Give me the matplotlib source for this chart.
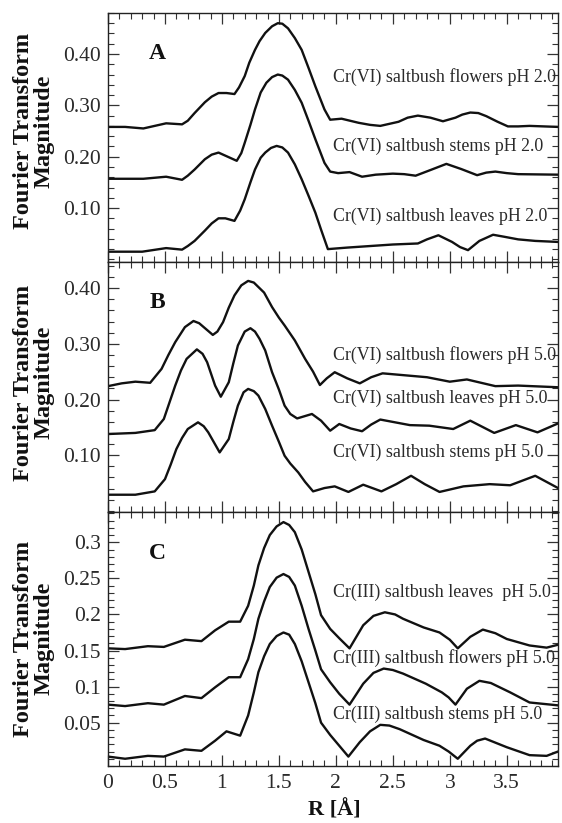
import matplotlib

matplotlib.use("Agg")
import matplotlib.pyplot as plt
from matplotlib.ticker import FuncFormatter, MultipleLocator

plt.rcParams["font.family"] = ["Liberation Serif", "DejaVu Serif"]

# Panel A: Cr(VI) at pH 2.0
A_FLOWERS_X = [0.00, 0.15, 0.31, 0.51, 0.65, 0.70, 0.76, 0.85, 0.91, 0.97, 1.04, 1.11, 1.15, 1.20,
               1.24, 1.29, 1.33, 1.38, 1.44, 1.49, 1.53, 1.58, 1.64, 1.70, 1.76, 1.82, 1.90, 1.95,
               2.05, 2.20, 2.30, 2.39, 2.55, 2.63, 2.72, 2.83, 2.94, 3.05, 3.11, 3.18, 3.25, 3.32,
               3.42, 3.51, 3.60, 3.70, 3.95]
A_FLOWERS_Y = [0.258, 0.258, 0.255, 0.265, 0.263, 0.270, 0.285, 0.306, 0.317, 0.324, 0.324, 0.322,
               0.335, 0.357, 0.383, 0.408, 0.425, 0.441, 0.454, 0.460, 0.459, 0.450, 0.431, 0.408,
               0.373, 0.337, 0.292, 0.272, 0.274, 0.266, 0.262, 0.260, 0.268, 0.276, 0.280, 0.276,
               0.269, 0.276, 0.282, 0.286, 0.285, 0.279, 0.268, 0.259, 0.259, 0.260, 0.258]
A_STEMS_X = [0.00, 0.31, 0.51, 0.65, 0.70, 0.76, 0.85, 0.91, 0.97, 1.04, 1.13, 1.17, 1.20, 1.25,
             1.29, 1.34, 1.39, 1.44, 1.49, 1.53, 1.58, 1.64, 1.70, 1.76, 1.82, 1.90, 1.95, 2.02,
             2.12, 2.23, 2.35, 2.50, 2.60, 2.70, 2.83, 2.97, 3.10, 3.24, 3.32, 3.40, 3.50, 3.60,
             3.95]
A_STEMS_Y = [0.157, 0.157, 0.161, 0.155, 0.163, 0.175, 0.195, 0.204, 0.208, 0.201, 0.192, 0.207,
             0.227, 0.262, 0.292, 0.325, 0.344, 0.355, 0.360, 0.358, 0.350, 0.330, 0.305, 0.270,
             0.234, 0.188, 0.171, 0.168, 0.170, 0.161, 0.165, 0.167, 0.166, 0.163, 0.174, 0.186,
             0.176, 0.164, 0.169, 0.171, 0.168, 0.166, 0.165]
A_LEAVES_X = [0.00, 0.30, 0.51, 0.65, 0.70, 0.76, 0.85, 0.91, 0.97, 1.03, 1.11, 1.16, 1.20, 1.25,
              1.29, 1.34, 1.38, 1.43, 1.48, 1.53, 1.58, 1.64, 1.70, 1.76, 1.82, 1.87, 1.93, 2.10,
              2.30, 2.50, 2.72, 2.80, 2.90, 3.02, 3.09, 3.16, 3.26, 3.38, 3.48, 3.60, 3.75, 3.95]
A_LEAVES_Y = [0.015, 0.015, 0.022, 0.019, 0.026, 0.036, 0.056, 0.070, 0.080, 0.080, 0.075, 0.095,
              0.117, 0.150, 0.175, 0.198, 0.208, 0.217, 0.221, 0.218, 0.208, 0.185, 0.156, 0.124,
              0.091, 0.058, 0.020, 0.023, 0.026, 0.029, 0.031, 0.039, 0.047, 0.034, 0.024, 0.018,
              0.036, 0.048, 0.044, 0.039, 0.036, 0.034]

# Panel B: Cr(VI) at pH 5.0
B_FLOWERS_X = [0.00, 0.12, 0.24, 0.37, 0.47, 0.53, 0.59, 0.675, 0.75, 0.80, 0.84, 0.92, 0.96, 1.01,
               1.06, 1.11, 1.17, 1.23, 1.28, 1.32, 1.37, 1.44, 1.50, 1.55, 1.64, 1.73, 1.80, 1.86,
               1.92, 1.99, 2.10, 2.21, 2.31, 2.41, 2.80, 3.00, 3.15, 3.40, 3.60, 3.95]
B_FLOWERS_Y = [0.224, 0.229, 0.232, 0.230, 0.255, 0.280, 0.303, 0.330, 0.341, 0.337, 0.330, 0.316,
               0.322, 0.339, 0.365, 0.387, 0.405, 0.413, 0.410, 0.402, 0.392, 0.366, 0.347, 0.333,
               0.306, 0.273, 0.250, 0.226, 0.238, 0.249, 0.238, 0.229, 0.240, 0.247, 0.240, 0.232,
               0.236, 0.224, 0.225, 0.222]
B_LEAVES_X = [0.00, 0.24, 0.41, 0.49, 0.54, 0.59, 0.64, 0.69, 0.78, 0.83, 0.87, 0.94, 0.99, 1.06,
              1.10, 1.14, 1.20, 1.25, 1.29, 1.33, 1.38, 1.44, 1.50, 1.55, 1.60, 1.66, 1.79, 1.87,
              1.95, 2.03, 2.13, 2.23, 2.31, 2.39, 2.65, 2.82, 3.03, 3.18, 3.39, 3.58, 3.77, 3.95]
B_LEAVES_Y = [0.138, 0.140, 0.145, 0.165, 0.195, 0.225, 0.252, 0.273, 0.290, 0.282, 0.267, 0.225,
              0.205, 0.231, 0.265, 0.297, 0.322, 0.328, 0.322, 0.309, 0.288, 0.249, 0.218, 0.189,
              0.174, 0.166, 0.174, 0.162, 0.144, 0.156, 0.148, 0.143, 0.155, 0.164, 0.154, 0.153,
              0.147, 0.162, 0.140, 0.154, 0.141, 0.157]
B_STEMS_X = [0.00, 0.24, 0.41, 0.50, 0.55, 0.60, 0.65, 0.70, 0.79, 0.84, 0.88, 0.98, 1.06, 1.10,
             1.14, 1.19, 1.23, 1.28, 1.32, 1.38, 1.44, 1.50, 1.55, 1.60, 1.67, 1.73, 1.80, 1.90,
             1.99, 2.11, 2.24, 2.40, 2.53, 2.66, 2.78, 2.91, 3.12, 3.35, 3.53, 3.75, 3.95]
B_STEMS_Y = [0.029, 0.029, 0.035, 0.057, 0.083, 0.111, 0.131, 0.147, 0.159, 0.152, 0.141, 0.105,
             0.129, 0.160, 0.189, 0.213, 0.219, 0.215, 0.207, 0.183, 0.153, 0.124, 0.099, 0.085,
             0.069, 0.052, 0.035, 0.041, 0.044, 0.034, 0.047, 0.035, 0.048, 0.063, 0.048, 0.034,
             0.044, 0.048, 0.046, 0.063, 0.041]

# Panel C: Cr(III) at pH 5.0
C_LEAVES_X = [0.00, 0.15, 0.35, 0.49, 0.675, 0.82, 0.94, 1.06, 1.16, 1.23, 1.28, 1.32, 1.37, 1.42,
              1.48, 1.54, 1.59, 1.64, 1.70, 1.76, 1.82, 1.87, 1.95, 2.03, 2.12, 2.24, 2.33, 2.43,
              2.52, 2.59, 2.77, 2.91, 3.00, 3.07, 3.18, 3.29, 3.40, 3.50, 3.70, 3.85, 3.95]
C_LEAVES_Y = [0.153, 0.152, 0.156, 0.155, 0.165, 0.163, 0.178, 0.190, 0.190, 0.212, 0.240, 0.268,
              0.292, 0.310, 0.322, 0.328, 0.324, 0.314, 0.290, 0.259, 0.228, 0.199, 0.180, 0.167,
              0.153, 0.185, 0.198, 0.203, 0.200, 0.194, 0.182, 0.175, 0.165, 0.153, 0.169, 0.179,
              0.174, 0.166, 0.157, 0.154, 0.158]
C_FLOWERS_X = [0.00, 0.15, 0.35, 0.49, 0.675, 0.82, 0.94, 1.06, 1.16, 1.23, 1.28, 1.32, 1.37, 1.42,
               1.48, 1.54, 1.59, 1.64, 1.70, 1.76, 1.82, 1.87, 1.95, 2.03, 2.12, 2.24, 2.33, 2.42,
               2.50, 2.59, 2.79, 2.93, 2.99, 3.05, 3.15, 3.26, 3.36, 3.53, 3.70, 3.95]
C_FLOWERS_Y = [0.075, 0.073, 0.077, 0.075, 0.087, 0.084, 0.099, 0.113, 0.113, 0.138, 0.166, 0.194,
               0.218, 0.238, 0.251, 0.256, 0.252, 0.240, 0.212, 0.180, 0.150, 0.124, 0.106, 0.090,
               0.075, 0.104, 0.119, 0.125, 0.123, 0.118, 0.104, 0.092, 0.085, 0.075, 0.097, 0.108,
               0.105, 0.092, 0.078, 0.074]
C_STEMS_X = [0.00, 0.15, 0.35, 0.49, 0.675, 0.82, 0.94, 1.04, 1.16, 1.23, 1.28, 1.32, 1.37, 1.42,
             1.48, 1.54, 1.59, 1.64, 1.70, 1.76, 1.82, 1.87, 1.95, 2.03, 2.11, 2.21, 2.30, 2.39,
             2.47, 2.56, 2.77, 2.91, 2.99, 3.07, 3.18, 3.24, 3.31, 3.50, 3.70, 3.85, 3.95]
C_STEMS_Y = [0.003, 0.000, 0.004, 0.003, 0.013, 0.011, 0.025, 0.038, 0.032, 0.060, 0.092, 0.120,
             0.142, 0.159, 0.170, 0.175, 0.172, 0.159, 0.135, 0.106, 0.077, 0.050, 0.033, 0.018,
             0.003, 0.023, 0.038, 0.047, 0.046, 0.041, 0.026, 0.018, 0.010, 0.000, 0.018, 0.025,
             0.028, 0.016, 0.005, 0.004, 0.010]

PANELS = [
    {
        "letter": "A", "letter_y": 0.400, "ylim": (-0.005, 0.48),
        "yticks": [0.10, 0.20, 0.30, 0.40], "minor": 0.02, "fmt": "{:.2f}",
        "rect": [0.1922, 0.6817, 0.8007, 0.3026], "label_y": 0.841,
        "curves": [
            (A_FLOWERS_X, A_FLOWERS_Y, "Cr(VI) saltbush flowers pH 2.0", 0.355),
            (A_STEMS_X, A_STEMS_Y, "Cr(VI) saltbush stems pH 2.0", 0.220),
            (A_LEAVES_X, A_LEAVES_Y, "Cr(VI) saltbush leaves pH 2.0", 0.084),
        ],
    },
    {
        "letter": "B", "letter_y": 0.375, "ylim": (-0.002, 0.447),
        "yticks": [0.10, 0.20, 0.30, 0.40], "minor": 0.02, "fmt": "{:.2f}",
        "rect": [0.1922, 0.3779, 0.8007, 0.3038], "label_y": 0.535,
        "curves": [
            (B_FLOWERS_X, B_FLOWERS_Y, "Cr(VI) saltbush flowers pH 5.0", 0.280),
            (B_LEAVES_X, B_LEAVES_Y, "Cr(VI) saltbush leaves pH 5.0", 0.202),
            (B_STEMS_X, B_STEMS_Y, "Cr(VI) saltbush stems pH 5.0", 0.106),
        ],
    },
    {
        "letter": "C", "letter_y": 0.285, "ylim": (-0.010, 0.342),
        "yticks": [0.05, 0.10, 0.15, 0.20, 0.25, 0.30], "minor": 0.01, "fmt": "{:g}",
        "rect": [0.1922, 0.0693, 0.8007, 0.3086], "label_y": 0.224,
        "curves": [
            (C_LEAVES_X, C_LEAVES_Y, "Cr(III) saltbush leaves  pH 5.0", 0.231),
            (C_FLOWERS_X, C_FLOWERS_Y, "Cr(III) saltbush flowers pH 5.0", 0.139),
            (C_STEMS_X, C_STEMS_Y, "Cr(III) saltbush stems pH 5.0", 0.061),
        ],
    },
]

INK = "#111111"
TEXT = "#2a2a2a"

fig = plt.figure(figsize=(5.62, 8.23), dpi=100)

for i, panel in enumerate(PANELS):
    ax = fig.add_axes(panel["rect"])
    for xs, ys, label, label_y in panel["curves"]:
        ax.plot(xs, ys, color=INK, linewidth=1.7, solid_joinstyle="round")
        ax.text(1.975, label_y, label, fontsize=12.9, color=TEXT, ha="left", va="center")
    ax.text(0.43, panel["letter_y"], panel["letter"], fontsize=17, fontweight="bold",
            color=INK, ha="center", va="center")

    ax.set_xlim(0, 3.95)
    ax.set_ylim(*panel["ylim"])
    ax.set_xticks([0, 0.5, 1, 1.5, 2, 2.5, 3, 3.5])
    ax.xaxis.set_minor_locator(MultipleLocator(0.1))
    ax.set_yticks(panel["yticks"])
    ax.yaxis.set_minor_locator(MultipleLocator(panel["minor"]))
    fmt = panel["fmt"]
    ax.yaxis.set_major_formatter(FuncFormatter(lambda v, p, fmt=fmt: fmt.format(v)))
    ax.xaxis.set_major_formatter(FuncFormatter(lambda v, p: f"{v:g}"))
    ax.tick_params(which="both", direction="in", top=True, right=True, color="#333333",
                   labelsize=15.5, labelcolor=TEXT)
    ax.tick_params(which="major", length=8, width=0.9)
    ax.tick_params(which="minor", length=4, width=0.8)
    ax.tick_params(axis="y", pad=5)
    ax.tick_params(axis="x", pad=6)
    if i < 2:
        ax.tick_params(axis="x", labelbottom=False)
    for spine in ax.spines.values():
        spine.set_linewidth(1.0)
        spine.set_color("#222222")

    fig.text(0.06, panel["label_y"], "Fourier Transform\nMagnitude", rotation=90,
             fontsize=17.5, fontweight="bold", color=INK, ha="center", va="center",
             multialignment="center", linespacing=1.0)

fig.text(0.595, 0.016, "R [Å]", fontsize=16, fontweight="bold", color=INK,
         ha="center", va="center")

fig.savefig("out.png", dpi=100)
